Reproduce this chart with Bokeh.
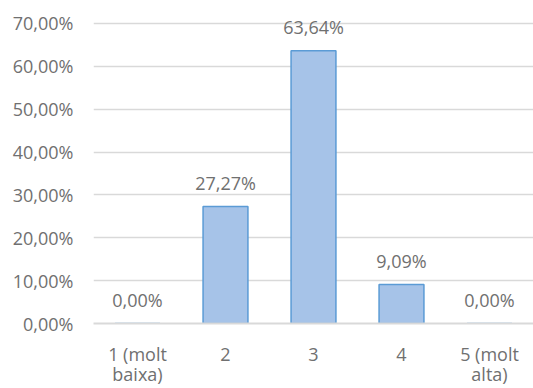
from bokeh.plotting import figure
from bokeh.models import Range1d, FixedTicker, ColumnDataSource
from bokeh.core.properties import value
from bokeh.embed import file_html
from bokeh.resources import INLINE

categories = ["1 (molt\nbaixa)", "2", "3", "4", "5 (molt\nalta)"]
positions = [1, 2, 3, 4, 5]
shares = [0.0, 0.2727, 0.6364, 0.0909, 0.0]
bar_labels = ["0,00%", "27,27%", "63,64%", "9,09%", "0,00%"]
y_ticks = [0.0, 0.1, 0.2, 0.3, 0.4, 0.5, 0.6, 0.7]
y_tick_labels = ["0,00%", "10,00%", "20,00%", "30,00%", "40,00%", "50,00%", "60,00%", "70,00%"]

FONT = "Open Sans"
TXT = "#707070"
FS = "18px"

src = ColumnDataSource(dict(x=positions, top=shares, label=bar_labels))

p = figure(width=533, height=388, output_backend="svg", toolbar_location=None,
           x_range=Range1d(0.5, 5.5), y_range=Range1d(0, 0.7488),
           min_border_left=93, min_border_right=0, min_border_top=2, min_border_bottom=64)
p.outline_line_color = None
p.background_fill_color = "white"
p.border_fill_color = "white"

p.vbar(x="x", top="top", bottom=0, width=0.51, source=src,
       fill_color="#a6c3e8", line_color="#5b9bd5", line_width=1.5)

p.text(x="x", y="top", text="label", source=src, text_align="center",
       text_baseline="middle", y_offset=-24, text_color=TXT,
       text_font=value(FONT), text_font_size=FS)

p.xgrid.grid_line_color = None
p.ygrid.grid_line_color = "#d9d9d9"
p.ygrid.grid_line_width = 1.5
p.ygrid.ticker = FixedTicker(ticks=y_ticks)

p.yaxis.ticker = FixedTicker(ticks=y_ticks)
p.yaxis.major_label_overrides = {t: l for t, l in zip(y_ticks, y_tick_labels)}
p.yaxis.axis_line_color = None
p.yaxis.major_tick_line_color = None
p.yaxis.minor_tick_line_color = None
p.yaxis.major_tick_out = 0
p.yaxis.major_label_standoff = 20
p.yaxis.major_label_text_font = FONT
p.yaxis.major_label_text_font_size = FS
p.yaxis.major_label_text_color = TXT

p.xaxis.ticker = FixedTicker(ticks=positions)
p.xaxis.major_label_overrides = {pos: c for pos, c in zip(positions, categories)}
p.xaxis.axis_line_color = "#d9d9d9"
p.xaxis.axis_line_width = 2
p.xaxis.major_tick_line_color = None
p.xaxis.minor_tick_line_color = None
p.xaxis.major_tick_out = 0
p.xaxis.major_label_standoff = 18
p.xaxis.major_label_text_font = FONT
p.xaxis.major_label_text_font_size = FS
p.xaxis.major_label_text_color = TXT
p.xaxis.major_label_text_line_height = 0.85

open("out.html", "w").write(file_html(p, INLINE))
